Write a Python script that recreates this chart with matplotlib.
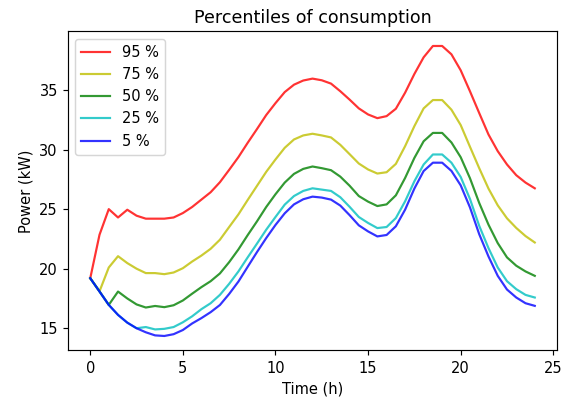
import numpy as np
import matplotlib
matplotlib.use("Agg")
import matplotlib.pyplot as plt

# Half-hourly time steps over one day
HOURS = [0.0, 0.5, 1.0, 1.5, 2.0, 2.5, 3.0, 3.5, 4.0, 4.5, 5.0, 5.5,
         6.0, 6.5, 7.0, 7.5, 8.0, 8.5, 9.0, 9.5, 10.0, 10.5, 11.0, 11.5,
         12.0, 12.5, 13.0, 13.5, 14.0, 14.5, 15.0, 15.5, 16.0, 16.5, 17.0, 17.5,
         18.0, 18.5, 19.0, 19.5, 20.0, 20.5, 21.0, 21.5, 22.0, 22.5, 23.0, 23.5,
         24.0]

# Power percentiles (kW)
P95 = [19.2, 22.85, 25.0, 24.3, 24.95, 24.45, 24.2, 24.2, 24.2, 24.3, 24.67, 25.18,
       25.8, 26.42, 27.26, 28.3, 29.37, 30.57, 31.72, 32.9, 33.9, 34.83, 35.45, 35.8,
       35.96, 35.82, 35.54, 34.9, 34.2, 33.46, 32.95, 32.64, 32.81, 33.43, 34.78, 36.35,
       37.75, 38.7, 38.7, 38.0, 36.66, 34.9, 33.07, 31.27, 29.87, 28.75, 27.85, 27.23,
       26.75]
P75 = [19.2, 18.1, 20.1, 21.05, 20.47, 20.0, 19.63, 19.63, 19.54, 19.68, 20.04, 20.6,
       21.1, 21.67, 22.43, 23.5, 24.56, 25.77, 26.95, 28.13, 29.17, 30.15, 30.85, 31.19,
       31.33, 31.19, 31.02, 30.4, 29.62, 28.83, 28.33, 27.99, 28.1, 28.8, 30.29, 31.97,
       33.46, 34.16, 34.16, 33.35, 32.06, 30.24, 28.44, 26.73, 25.32, 24.23, 23.42, 22.74,
       22.2]
P50 = [19.2, 18.1, 16.96, 18.08, 17.5, 17.0, 16.74, 16.87, 16.77, 16.93, 17.33, 17.9,
       18.45, 18.95, 19.6, 20.55, 21.62, 22.82, 23.97, 25.18, 26.25, 27.23, 27.96, 28.38,
       28.58, 28.44, 28.27, 27.73, 26.97, 26.1, 25.63, 25.26, 25.4, 26.16, 27.62, 29.3,
       30.7, 31.4, 31.4, 30.6, 29.36, 27.6, 25.52, 23.7, 22.15, 20.95, 20.25, 19.77,
       19.4]
P25 = [19.2, 18.08, 16.96, 16.12, 15.47, 15.0, 15.1, 14.9, 14.95, 15.1, 15.5, 16.0,
       16.6, 17.1, 17.8, 18.73, 19.77, 20.95, 22.1, 23.27, 24.34, 25.38, 26.1, 26.53,
       26.75, 26.64, 26.53, 26.0, 25.2, 24.34, 23.84, 23.41, 23.5, 24.25, 25.66, 27.34,
       28.75, 29.59, 29.59, 28.9, 27.7, 25.86, 23.6, 21.73, 20.1, 18.95, 18.28, 17.8,
       17.58]
P5 = [19.2, 18.08, 16.96, 16.12, 15.47, 15.0, 14.66, 14.4, 14.35, 14.5, 14.85, 15.4,
      15.85, 16.35, 16.95, 17.88, 18.92, 20.16, 21.39, 22.57, 23.67, 24.65, 25.4, 25.83,
      26.05, 25.97, 25.8, 25.3, 24.5, 23.64, 23.13, 22.71, 22.83, 23.56, 24.96, 26.73,
      28.2, 28.9, 28.9, 28.21, 27.0, 25.15, 22.9, 21.03, 19.4, 18.25, 17.58, 17.1,
      16.88]

SERIES = [P95, P75, P50, P25, P5]
LABELS = ["95 %", "75 %", "50 %", "25 %", "5 %"]
COLORS = ["r", "y", "g", "c", "b"]

DPI = 105
fig = plt.figure(figsize=(575 / DPI, 400 / DPI), dpi=DPI)
ax = fig.add_axes([0.1183, 0.1238, 0.8504, 0.7975])

for vals, lab, c in zip(SERIES, LABELS, COLORS):
    ax.plot(HOURS, vals, color=c, alpha=0.8, linewidth=1.5, label=lab)

ax.set_title("Percentiles of consumption", fontsize=12)
ax.set_xlabel("Time (h)", fontsize=10)
ax.set_ylabel("Power (kW)", fontsize=10)
ax.tick_params(labelsize=10)
ax.legend(loc="upper left", fontsize=10)

plt.savefig("out.png", dpi=DPI)
plt.close(fig)
